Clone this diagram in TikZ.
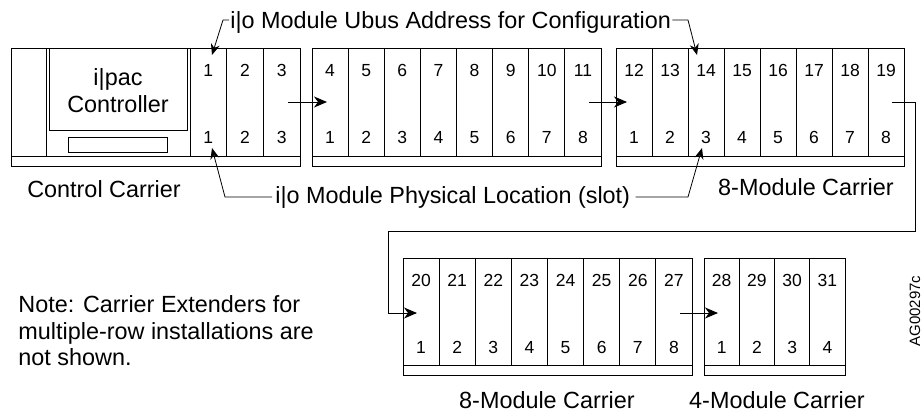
\documentclass[tikz,border=0pt]{standalone}
\usepackage{fontspec}
\setmainfont{Liberation Sans}
\usetikzlibrary{arrows.meta,calc}
\newcommand{\myslots}[7]{%
  \pgfmathsetmacro{\slotw}{(#3-#2)/#6}%
  \foreach \i in {1,...,#6}{%
    \pgfmathsetmacro{\cx}{#2+(\i-0.5)*\slotw}%
    \pgfmathtruncatemacro{\addr}{#7+\i-1}%
    \node[num] (#1t\i) at (\cx,#4+28) {\addr};
    \node[num] (#1b\i) at (\cx,#4+95) {\i};
    \ifnum\i>1 \draw ({#2+(\i-1)*\slotw},#4) -- ({#2+(\i-1)*\slotw},#5-10);\fi
  }%
}
\newcommand{\mycarrier}[7]{%
  \draw (#2,#4) rectangle (#3,#5);
  \draw (#2,#5-10) -- (#3,#5-10);
  \myslots{#1}{#2}{#3}{#4}{#5}{#6}{#7}%
}
\begin{document}
\begin{tikzpicture}[x=1pt,y=-1pt,line width=0.9pt,
  big/.style={font=\fontsize{23.4}{27}\selectfont,inner sep=0pt},
  num/.style={font=\fontsize{17.5}{20}\selectfont,inner sep=0pt,anchor=base},
  arr/.style={-{Stealth[length=13pt,width=11pt,inset=4pt]}},
  lead/.style={-{Stealth[length=11pt,width=9pt,inset=3.5pt]},line width=0.8pt}]
\useasboundingbox (0,0) rectangle (923,413);
% control carrier
\draw (11,48) rectangle (300,166);
\draw (11,156) -- (300,156);
\draw (46,48) -- (46,156);
\draw (49,48) rectangle (187,130);
\draw (68,137) rectangle (167,152);
\draw (190,48) -- (190,156);
\node[big,anchor=base] (ipac) at (118,85) {i|pac};
\node[big,anchor=base] (ctrl) at (118,112) {Controller};
\myslots{ca}{190}{300}{48}{166}{3}{1}
\mycarrier{cb}{312}{601}{48}{166}{8}{4}
\mycarrier{cc}{616}{904}{48}{166}{8}{12}
\mycarrier{cd}{403}{692}{258}{375}{8}{20}
\mycarrier{ce}{704}{845}{258}{375}{4}{28}
% carrier labels
\node[big,anchor=base] (cclbl) at (104,197) {Control Carrier};
\node[big,anchor=base] (cclbl3) at (806,195) {8-Module Carrier};
\node[big,anchor=base] (cclbl4) at (547,408) {8-Module Carrier};
\node[big,anchor=base] (cclbl5) at (777,408) {4-Module Carrier};
% chain arrows
\coordinate (a1s) at (288,102); \coordinate (a1e) at (327,102);
\draw[arr] (a1s) -- (a1e);
\coordinate (a2s) at (589,102); \coordinate (a2e) at (627,102);
\draw[arr] (a2s) -- (a2e);
\coordinate (a3s) at (892,102); \coordinate (a3k1) at (915,102);
\coordinate (a3k2) at (915,231); \coordinate (a3k3) at (388,231);
\coordinate (a3k4) at (388,313); \coordinate (a3e) at (417,313);
\draw[arr] (a3s) -- (a3k1) -- (a3k2) -- (a3k3) -- (a3k4) -- (a3e);
\coordinate (a4s) at (680,313); \coordinate (a4e) at (718,313);
\draw[arr] (a4s) -- (a4e);
% address label
\node[big,anchor=base west] (lblA) at (230,28) {i|o Module Ubus Address for Configuration};
\coordinate (kA1) at (223,20); \coordinate (tA1) at (212,55);
\coordinate (kA2) at (688,20); \coordinate (tA2) at (697,55);
\draw[lead] ($(lblA.base west)+(-1,-8)$) -- (kA1) -- (tA1);
\draw[lead] ($(lblA.base east)+(1,-8)$) -- (kA2) -- (tA2);
% slot label
\node[big,anchor=base west] (lblB) at (275,203) {i|o Module Physical Location (slot)};
\coordinate (kB1) at (225,197); \coordinate (tB1) at (212,148);
\coordinate (kB2) at (688,197); \coordinate (tB2) at (702,148);
\draw[lead] ($(lblB.base west)+(-3,-6)$) -- (kB1) -- (tB1);
\draw[lead] ($(lblB.base east)+(5,-6)$) -- (kB2) -- (tB2);
% note
\node[big,anchor=base west] (note1) at (18,312) {Note: Carrier Extenders for};
\node[big,anchor=base west] (note2) at (18,339) {multiple-row installations are};
\node[big,anchor=base west] (note3) at (18,365) {not shown.};
% figure id
\node[font=\fontsize{15}{17}\selectfont,rotate=90,inner sep=0pt] (ag) at (915,311) {AG00297c};
\end{tikzpicture}
\end{document}
